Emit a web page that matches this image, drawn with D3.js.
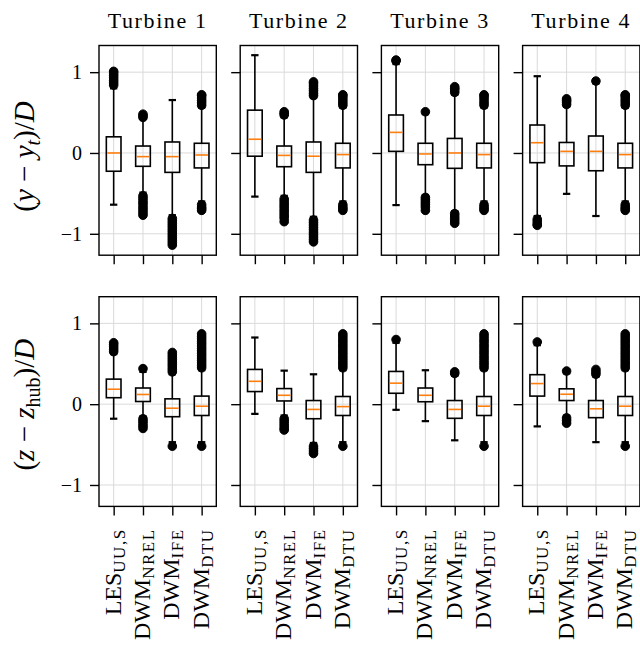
<!DOCTYPE html>
<html>
<head>
<meta charset="utf-8">
<script src="https://cdn.jsdelivr.net/npm/d3@7"></script>
<style>
  body { margin: 0; background: #fff; }
  svg { display: block; }
  text { font-family: "Liberation Serif", "Times New Roman", serif; fill: #000; }
</style>
</head>
<body>
<svg id="chart" width="640" height="657"></svg>
<script>
// ---- data -------------------------------------------------------------
const turbines = ["Turbine 1", "Turbine 2", "Turbine 3", "Turbine 4"];
const models = ["LES", "NREL", "IFE", "DTU"];
const modelBase = ["LES", "DWM", "DWM", "DWM"];
const modelSub = ["UU,S", "NREL", "IFE", "DTU"];
const yTicks = [-1, 0, 1];

// box statistics per model: [lower whisker, Q1, median, Q3, upper whisker]
const lateralT1 = [[-0.64, -0.226, 0.0, 0.20, 0.80], [-0.49, -0.165, -0.045, 0.086, 0.42], [-0.77, -0.24, -0.045, 0.136, 0.655], [-0.60, -0.185, -0.025, 0.12, 0.56]];
const lateralT2 = [[-0.54, -0.04, 0.17, 0.53, 1.21], [-0.53, -0.17, -0.03, 0.086, 0.44], [-0.79, -0.24, -0.04, 0.136, 0.68], [-0.60, -0.185, -0.02, 0.12, 0.56]];
const lateralT3 = [[-0.645, 0.02, 0.255, 0.47, 1.10], [-0.52, -0.145, -0.012, 0.12, 0.48], [-0.72, -0.19, 0.0, 0.18, 0.72], [-0.60, -0.185, -0.02, 0.12, 0.56]];
const lateralT4 = [[-0.78, -0.12, 0.127, 0.346, 0.95], [-0.506, -0.16, 0.02, 0.13, 0.57], [-0.78, -0.22, 0.02, 0.21, 0.86], [-0.60, -0.185, -0.02, 0.12, 0.56]];

const verticalT1 = [[-0.18, 0.08, 0.185, 0.31, 0.62], [-0.15, 0.033, 0.12, 0.20, 0.40], [-0.47, -0.155, -0.05, 0.066, 0.37], [-0.47, -0.14, -0.025, 0.10, 0.42]];
const verticalT2 = [[-0.12, 0.156, 0.283, 0.43, 0.825], [-0.14, 0.04, 0.11, 0.193, 0.415], [-0.48, -0.18, -0.065, 0.045, 0.37], [-0.47, -0.14, -0.03, 0.095, 0.42]];
const verticalT3 = [[-0.07, 0.135, 0.26, 0.405, 0.76], [-0.21, 0.03, 0.11, 0.20, 0.42], [-0.447, -0.175, -0.065, 0.045, 0.35], [-0.47, -0.14, -0.025, 0.095, 0.42]];
const verticalT4 = [[-0.275, 0.10, 0.255, 0.365, 0.73], [-0.14, 0.045, 0.123, 0.19, 0.38], [-0.47, -0.167, -0.057, 0.045, 0.34], [-0.47, -0.14, -0.025, 0.095, 0.42]];

// outliers beyond the whiskers, per model
const lateralFliersT1 = [
  [0.84, 0.87, 0.90, 0.93, 0.96, 0.99, 1.01],
  [0.44, 0.46, 0.48, -0.53, -0.56, -0.59, -0.62, -0.65, -0.68, -0.71, -0.74, -0.77],
  [-0.81, -0.84, -0.87, -0.90, -0.93, -0.96, -0.99, -1.02, -1.05, -1.08, -1.11, -1.14],
  [0.59, 0.62, 0.65, 0.68, 0.71, 0.72, -0.64, -0.67, -0.69, -0.71]];
const lateralFliersT2 = [
  [],
  [0.47, 0.49, 0.51, -0.57, -0.60, -0.63, -0.66, -0.69, -0.72, -0.75, -0.78, -0.81, -0.85],
  [0.71, 0.74, 0.77, 0.80, 0.83, 0.86, 0.88, -0.83, -0.86, -0.89, -0.92, -0.95, -0.98, -1.01, -1.04, -1.07, -1.10],
  [0.59, 0.62, 0.65, 0.68, 0.71, 0.72, -0.64, -0.67, -0.69, -0.71]];
const lateralFliersT3 = [
  [1.14, 1.15],
  [0.51, -0.55, -0.58, -0.61, -0.64, -0.67, -0.71],
  [0.75, 0.78, 0.80, 0.82, -0.75, -0.78, -0.81, -0.84, -0.87],
  [0.59, 0.62, 0.65, 0.68, 0.71, 0.72, -0.64, -0.67, -0.69, -0.71]];
const lateralFliersT4 = [
  [-0.82, -0.85, -0.88, -0.895],
  [0.60, 0.63, 0.65, 0.67],
  [0.89],
  [0.59, 0.62, 0.65, 0.68, 0.71, 0.72, -0.64, -0.67, -0.69, -0.71]];

const verticalFliersT1 = [
  [0.65, 0.68, 0.71, 0.74, 0.76],
  [0.44, -0.18, -0.21, -0.24, -0.27, -0.30],
  [0.40, 0.43, 0.46, 0.49, 0.52, 0.55, 0.58, 0.61, 0.64, -0.52],
  [0.45, 0.48, 0.51, 0.54, 0.57, 0.60, 0.63, 0.66, 0.69, 0.72, 0.75, 0.78, 0.81, 0.84, 0.87, -0.52]];
const verticalFliersT2 = [
  [],
  [-0.18, -0.21, -0.24, -0.27, -0.30, -0.32],
  [-0.52, -0.55, -0.58, -0.61],
  [0.45, 0.48, 0.51, 0.54, 0.57, 0.60, 0.63, 0.66, 0.69, 0.72, 0.75, 0.78, 0.81, 0.84, 0.87, -0.52]];
const verticalFliersT3 = [
  [0.80],
  [],
  [0.38, 0.40],
  [0.45, 0.48, 0.51, 0.54, 0.57, 0.60, 0.63, 0.66, 0.69, 0.72, 0.75, 0.78, 0.81, 0.84, 0.87, -0.52]];
const verticalFliersT4 = [
  [0.77],
  [0.41, -0.17, -0.20, -0.235],
  [0.37, 0.40, 0.43],
  [0.45, 0.48, 0.51, 0.54, 0.57, 0.60, 0.63, 0.66, 0.69, 0.72, 0.75, 0.78, 0.81, 0.84, 0.87, -0.52]];

// ---- layout -----------------------------------------------------------
const rows = [
  { boxes: [lateralT1, lateralT2, lateralT3, lateralT4], fliers: [lateralFliersT1, lateralFliersT2, lateralFliersT3, lateralFliersT4] },
  { boxes: [verticalT1, verticalT2, verticalT3, verticalT4], fliers: [verticalFliersT1, verticalFliersT2, verticalFliersT3, verticalFliersT4] }
];

const serif = "Liberation Serif, Times New Roman, serif";
const panelW = 117.3, panelH = 209.7;
const colX = d3.scaleLinear().domain([0, 1]).range([99, 240.2]);   // left edge of each column
const rowY = d3.scaleLinear().domain([0, 1]).range([45.5, 296.7]); // top edge of each row
const yDomain = [-1.265, 1.33];

const svg = d3.select("#chart");
const medianColor = "#ff7f0e";
const gridColor = "#dadada";
const lw = 1.6;

rows.forEach((row, r) => {
  turbines.forEach((turbine, c) => {
    const g = svg.append("g").attr("transform", `translate(${colX(c)},${rowY(r)})`);
    const x = d3.scalePoint().domain(models).range([0, panelW]).padding(0.5);
    const y = d3.scaleLinear().domain(yDomain).range([panelH, 0]);
    const bw = x.step() * 0.5;
    const cw = bw * 0.5;

    // grid
    g.append("g").selectAll("line").data(yTicks).join("line")
      .attr("x1", 0).attr("x2", panelW).attr("y1", d => y(d)).attr("y2", d => y(d))
      .attr("stroke", gridColor).attr("stroke-width", 1);
    g.append("g").selectAll("line").data(models).join("line")
      .attr("x1", d => x(d)).attr("x2", d => x(d)).attr("y1", 0).attr("y2", panelH)
      .attr("stroke", gridColor).attr("stroke-width", 1);

    // boxes, whiskers, medians and outliers
    const stats = row.boxes[c];
    const fl = row.fliers[c];
    models.forEach((m, i) => {
      const [lo, q1, med, q3, hi] = stats[i];
      const cx = x(m);
      const bg = g.append("g").attr("stroke", "#000").attr("stroke-width", lw).attr("fill", "none");
      bg.append("line").attr("x1", cx).attr("x2", cx).attr("y1", y(q1)).attr("y2", y(lo));
      bg.append("line").attr("x1", cx).attr("x2", cx).attr("y1", y(q3)).attr("y2", y(hi));
      bg.append("line").attr("x1", cx - cw / 2).attr("x2", cx + cw / 2).attr("y1", y(lo)).attr("y2", y(lo)).attr("stroke-width", 2.2);
      bg.append("line").attr("x1", cx - cw / 2).attr("x2", cx + cw / 2).attr("y1", y(hi)).attr("y2", y(hi)).attr("stroke-width", 2.2);
      bg.append("rect").attr("x", cx - bw / 2).attr("y", y(q3)).attr("width", bw).attr("height", y(q1) - y(q3));
      g.append("line").attr("x1", cx - bw / 2 + 1).attr("x2", cx + bw / 2 - 1).attr("y1", y(med)).attr("y2", y(med))
        .attr("stroke", medianColor).attr("stroke-width", lw);
      g.append("g").selectAll("circle").data(fl[i]).join("circle")
        .attr("cx", cx).attr("cy", d => y(d)).attr("r", 4.3)
        .attr("fill", "#000").attr("stroke", "#000").attr("stroke-width", 1);
    });

    // frame
    g.append("rect").attr("x", 0).attr("y", 0).attr("width", panelW).attr("height", panelH)
      .attr("fill", "none").attr("stroke", "#000").attr("stroke-width", 1.4);

    // y axis
    const ya = d3.axisLeft(y).tickValues(yTicks).tickSize(9).tickPadding(8).tickFormat(d3.format("d"));
    const yg = g.append("g").call(ya).attr("font-family", serif);
    yg.select(".domain").remove();
    yg.selectAll(".tick line").attr("stroke", "#000").attr("stroke-width", 1.4);
    yg.selectAll(".tick text").attr("font-size", 20);
    if (c > 0) yg.selectAll(".tick text").remove();

    // x axis
    const xa = d3.axisBottom(x).tickSize(9).tickFormat("");
    const xg = g.append("g").attr("transform", `translate(0,${panelH})`).call(xa);
    xg.select(".domain").remove();
    xg.selectAll(".tick line").attr("stroke", "#000").attr("stroke-width", 1.4);
    xg.selectAll(".tick text").remove();

    if (r === rows.length - 1) {
      models.forEach((m, i) => {
        const t = g.append("text")
          .attr("transform", `translate(${x(m) + 7},${panelH + 22}) rotate(-90)`)
          .attr("text-anchor", "end")
          .attr("font-family", serif)
          .attr("font-size", 24);
        t.append("tspan").text(modelBase[i]);
        t.append("tspan").attr("font-size", 17).attr("dy", 4).attr("letter-spacing", 1.5).text(modelSub[i]);
      });
    }

    if (r === 0) {
      svg.append("text")
        .attr("x", colX(c) + panelW / 2).attr("y", 27.7)
        .attr("text-anchor", "middle").attr("font-family", serif)
        .attr("font-size", 22).attr("letter-spacing", 1.6)
        .text(turbine);
    }
  });
});

// y-axis labels
function yLabel(cy, sym, sub, subItalic) {
  const t = svg.append("text")
    .attr("transform", `translate(34,${cy}) rotate(-90)`)
    .attr("text-anchor", "middle").attr("font-family", serif).attr("font-size", 29);
  t.append("tspan").text("(");
  t.append("tspan").attr("font-style", "italic").text(sym);
  t.append("tspan").text(" \u2212 ");
  t.append("tspan").attr("font-style", "italic").text(sym);
  t.append("tspan").attr("font-size", 20).attr("dy", 6).attr("font-style", subItalic ? "italic" : "normal").text(sub);
  t.append("tspan").attr("dy", -6).text(")/");
  t.append("tspan").attr("font-style", "italic").text("D");
}
yLabel(rowY(0) + 111, "y", "t", true);
yLabel(rowY(1) + 108, "z", "hub", false);
</script>
</body>
</html>
